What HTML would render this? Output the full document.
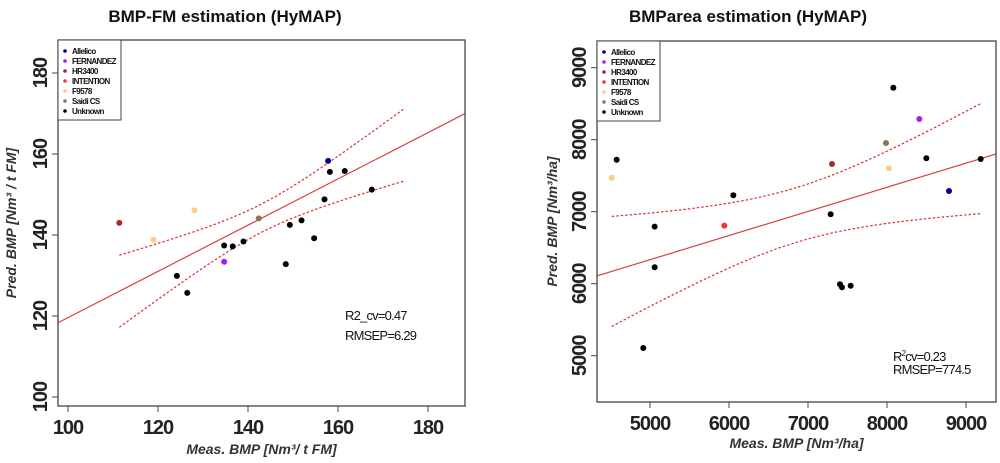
<!DOCTYPE html>
<html><head><meta charset="utf-8">
<style>
html,body{margin:0;padding:0;background:#fff;width:1000px;height:463px;overflow:hidden;}
svg{display:block;font-family:"Liberation Sans",Arial,sans-serif;}
</style></head>
<body>
<svg id="chart" width="1000" height="463" viewBox="0 0 1000 463" xmlns="http://www.w3.org/2000/svg"></svg>
<script>
// ---------- Data ----------
const legendNames = ["Allelico","FERNANDEZ","HR3400","INTENTION","F9578","Saidi CS","Unknown"];
const legendColors = ["#00008b","#a020f0","#a52a2a","#ff3030","#ffcc88","#8b7355","#000000"];

// Left plot: BMP-FM
const fmGroup = [0,1,2,4,4,5,6,6,6,6,6,6,6,6,6,6,6,6,6];
const fmMeas  = [157.8,134.7,111.4,128.1,119.0,142.4,124.2,126.5,134.7,136.6,139.0,148.4,149.3,151.9,154.7,157.0,158.2,161.5,167.5];
const fmPred  = [158.3,133.4,143.0,146.1,138.8,144.1,129.9,125.7,137.4,137.2,138.4,132.8,142.5,143.6,139.2,148.8,155.6,155.8,151.2];
const fmXTicks = [100,120,140,160,180];
const fmYTicks = [100,120,140,160,180];
const fmFit = [0.571, 62.5];          // slope, intercept
const fmBand = [143, 3.5, 0.259, 111.4, 174.7]; // center, h0, k, xmin, xmax
const fmStats = ["R2_cv=0.47","RMSEP=6.29"];

// Right plot: BMParea
const arGroup = [0,1,2,3,4,4,5,6,6,6,6,6,6,6,6,6,6,6,6];
const arMeas  = [8785,8409,7304,5941,4515,8025,7987,4578,5059,5059,4915,6055,7287,7405,7430,7540,8080,8498,9186];
const arPred  = [7287,8287,7662,6806,7472,7603,7954,7722,6792,6228,5107,7228,6964,5992,5950,5972,8722,7742,7732];
const arXTicks = [5000,6000,7000,8000,9000];
const arYTicks = [5000,6000,7000,8000,9000];
const arFit = [0.3354, 4656];
const arBand = [6850, 380, 0.284, 4515, 9186];

const NS="http://www.w3.org/2000/svg";
const svg=document.getElementById('chart');
function mk(tag,attrs,parent){const e=document.createElementNS(NS,tag);for(const k in attrs)e.setAttribute(k,attrs[k]);(parent||svg).appendChild(e);return e;}

function drawPlot(cfg){
  const g=mk('g',{});
  
  
  const sx=v=>cfg.px0+(v-cfg.x0)*(cfg.px1-cfg.px0)/(cfg.x1-cfg.x0);
  const sy=v=>cfg.py0+(v-cfg.y0)*(cfg.py1-cfg.py0)/(cfg.y1-cfg.y0);
  const B=cfg.box;
  const t=mk('text',{x:cfg.titleX,y:22,'text-anchor':'middle','font-size':17,'font-weight':'bold',fill:'#111'},g);
  t.textContent=cfg.title;
  
  
  const cp=mk('clipPath',{id:cfg.id+'clip'},g);
  mk('rect',{x:B[0],y:B[1],width:B[2]-B[0],height:B[3]-B[1]},cp);
  const f=x=>cfg.fit[0]*x+cfg.fit[1];
  const xa=cfg.x0-(cfg.x1-cfg.x0), xb=cfg.x1+(cfg.x1-cfg.x0);
  const rl=mk('line',{x1:sx(xa),y1:sy(f(xa)),x2:sx(xb),y2:sy(f(xb)),stroke:'#d84040','stroke-width':1.2,'clip-path':'url(#'+cfg.id+'clip)'},g);
  
  
  [1,-1].forEach(s=>{
    let d='';
    const [c,h0,k,xm,xM]=cfg.band;
    for(let i=0;i<=40;i++){const x=xm+(xM-xm)*i/40;const hw=Math.sqrt(h0*h0+k*k*(x-c)*(x-c));d+=(i?'L':'M')+sx(x).toFixed(1)+','+sy(f(x)+s*hw).toFixed(1);}
    const p=mk('path',{d:d,fill:'none',stroke:'#d83030','stroke-width':1.2,'stroke-dasharray':'2.5,2'},g);
    
    
  });
  cfg.mx.forEach((mv,i)=>{
    const c=mk('circle',{cx:sx(mv),cy:sy(cfg.my[i]),r:3,fill:legendColors[cfg.grp[i]]},g);
    
    
  });
  const bx=mk('rect',{x:B[0],y:B[1],width:B[2]-B[0],height:B[3]-B[1],fill:'none',stroke:'#444','stroke-width':1.3},g);
  
  
  cfg.xt.forEach(v=>{
    mk('line',{x1:sx(v),y1:B[3],x2:sx(v),y2:B[3]+6,stroke:'#444'},g);
    const tx=mk('text',{x:sx(v),y:B[3]+28,'text-anchor':'middle','font-size':20,'font-weight':'bold',fill:'#222','letter-spacing':'-1'},g);
    tx.textContent=v;
    
    
  });
  cfg.yt.forEach(v=>{
    mk('line',{x1:B[0]-6,y1:sy(v),x2:B[0],y2:sy(v),stroke:'#444'},g);
    const ty=mk('text',{x:B[0]-11,y:sy(v),'text-anchor':'middle','font-size':20,'font-weight':'bold',fill:'#222','letter-spacing':'-1',transform:'rotate(-90 '+(B[0]-11)+' '+sy(v)+')'},g);
    ty.textContent=v;
    
    
  });
  const xl=mk('text',{x:(B[0]+B[2])/2,y:cfg.xlY,'text-anchor':'middle','font-size':14,'font-weight':'bold','font-style':'italic',fill:'#333'},g);
  xl.textContent=cfg.xlabel;
  
  
  const yl=mk('text',{x:cfg.ylX,y:(B[1]+B[3])/2,'text-anchor':'middle','font-size':14,'font-weight':'bold','font-style':'italic',fill:'#333',transform:'rotate(-90 '+cfg.ylX+' '+(B[1]+B[3])/2+')'},g);
  yl.textContent=cfg.ylabel;
  
  
  const lg=mk('g',{},g);
  
  
  mk('rect',{x:B[0],y:B[1],width:63,height:80,fill:'#fff',stroke:'#444','stroke-width':1},lg);
  legendNames.forEach((n,i)=>{
    const yy=B[1]+11+i*10;
    mk('circle',{cx:B[0]+7,cy:yy,r:1.8,fill:legendColors[i]},lg);
    const lt=mk('text',{x:B[0]+14,y:yy+3,'font-size':8,'font-weight':'bold',fill:'#111','letter-spacing':'-0.6'},lg);
    lt.textContent=n;
    
    
  });
  cfg.stats(g);
}

drawPlot({id:'fm',title:'BMP-FM estimation (HyMAP)',titleX:225,
  x0:100,x1:180,px0:68,px1:428,y0:100,y1:180,py0:397,py1:73,box:[58,40,465,406],
  mx:fmMeas,my:fmPred,grp:fmGroup,xt:fmXTicks,yt:fmYTicks,fit:fmFit,band:fmBand,
  xlabel:'Meas. BMP [Nm³/ t FM]',ylabel:'Pred. BMP [Nm³ / t FM]',xlY:454,ylX:16,
  stats:g=>{
    fmStats.forEach((s,i)=>{const e=mk('text',{x:345,y:320+i*20,'font-size':13,fill:'#111','letter-spacing':'-0.8'},g);e.textContent=s;
      
      });
  }});

drawPlot({id:'ar',title:'BMParea estimation (HyMAP)',titleX:748,
  x0:5000,x1:9000,px0:650,px1:966,y0:5000,y1:9000,py0:355.7,py1:67.7,box:[597,41,996,402],
  mx:arMeas,my:arPred,grp:arGroup,xt:arXTicks,yt:arYTicks,fit:arFit,band:arBand,
  xlabel:'Meas. BMP [Nm³/ha]',ylabel:'Pred. BMP [Nm³/ha]',xlY:448,ylX:557,
  stats:g=>{
    const a=mk('text',{x:893,y:361,'font-size':13,fill:'#111','letter-spacing':'-0.8'},g);
    a.innerHTML='R<tspan dy="-5" font-size="8">2</tspan><tspan dy="5">cv=0.23</tspan>';
    
    
    const b=mk('text',{x:893,y:374,'font-size':13,fill:'#111','letter-spacing':'-0.8'},g);
    b.textContent='RMSEP=774.5';
    
    
  }});
</script>
</body></html>
